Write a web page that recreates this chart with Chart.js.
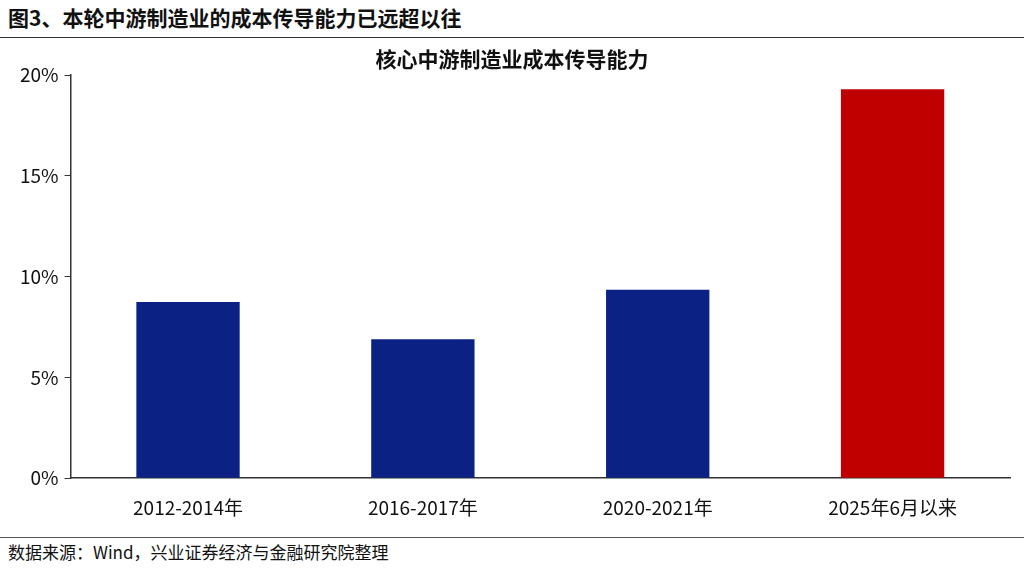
<!DOCTYPE html>
<html><head><meta charset="utf-8">
<script src="https://cdn.jsdelivr.net/npm/chart.js@4/dist/chart.umd.min.js"></script>
<style>
body{margin:0;width:1024px;height:568px;background:#fff;font-family:"Noto Sans CJK SC",sans-serif;overflow:hidden;position:relative}
#h{position:absolute;left:8px;top:2px;font-size:21px;font-weight:bold;color:#111}
#hl{position:absolute;left:0;top:37px;width:1024px;border-top:1.5px solid #333}
#fl{position:absolute;left:0;top:537px;width:1024px;border-top:1px solid #555}
#f{position:absolute;left:8px;top:539px;font-size:17px;color:#111}
#c{position:absolute;left:0;top:40px;width:1024px;height:496px}
</style></head><body>
<div id="h">图3、本轮中游制造业的成本传导能力已远超以往</div>
<div id="hl"></div>
<div id="c"><canvas id="cv"></canvas></div>
<div id="fl"></div>
<div id="f">数据来源：Wind，兴业证券经济与金融研究院整理</div>
<script>
const categories=["2012-2014年","2016-2017年","2020-2021年","2025年6月以来"];
const values=[8.75,6.9,9.35,19.3];
const barColors=["#0b2284","#0b2284","#0b2284","#c00000"];
new Chart(document.getElementById('cv'),{type:'bar',
data:{labels:categories,datasets:[{data:values,backgroundColor:barColors,barPercentage:0.88,categoryPercentage:0.5}]},
options:{responsive:true,maintainAspectRatio:false,animation:false,
layout:{padding:{left:14,right:14,top:0,bottom:7}},
plugins:{legend:{display:false},tooltip:{enabled:false},
title:{display:true,text:'核心中游制造业成本传导能力',font:{size:21,weight:'bold',family:'Noto Sans CJK SC'},color:'#111',padding:{top:6,bottom:4}}},
scales:{x:{grid:{display:false},border:{color:'#333',width:1.5},ticks:{color:'#111',font:{size:19,family:'Noto Sans CJK SC'},padding:10}},
y:{min:0,max:20,grid:{drawOnChartArea:false,drawTicks:true,tickLength:6,color:'#333'},border:{color:'#333',width:1.5},
ticks:{stepSize:5,color:'#111',font:{size:19,family:'Noto Sans CJK SC'},callback:v=>v+'%',padding:6}}}}});
</script></body></html>
